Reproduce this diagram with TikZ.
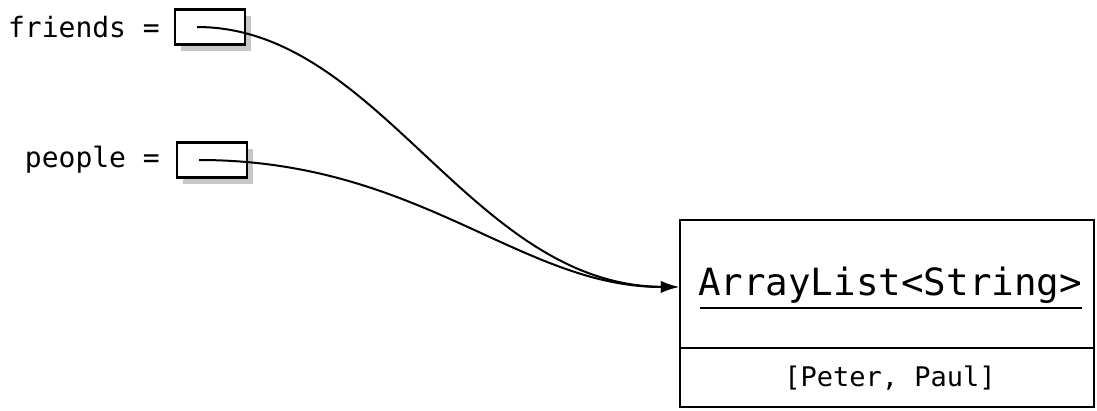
\documentclass[tikz,border=0pt]{standalone}
\usepackage{fontspec}
\setmonofont{DejaVu Sans Mono}
\usetikzlibrary{arrows.meta}
\begin{document}
\begin{tikzpicture}[x=1pt,y=-1pt,
  ptrbox/.style={draw=black,line width=2.4pt,fill=white,minimum width=70pt,minimum height=35pt,inner sep=0pt},
  shadowbox/.style={fill=black!22,minimum width=70pt,minimum height=35pt,inner sep=0pt},
  lbl/.style={font=\ttfamily\fontsize{28}{28}\selectfont,anchor=east,inner sep=0pt},
  link/.style={line width=2pt,-{Latex[length=18pt,width=12pt]}}]
\useasboundingbox (0,0) rectangle (1097,410);
% friends
\node[shadowbox] (fs) at (216,33) {};
\node[ptrbox] (fb) at (210,27) {};
\node[lbl] (fl) at (160,27) {friends =};
\coordinate (fstart) at (197,27);
% people
\node[shadowbox] (ps) at (218,166) {};
\node[ptrbox] (pb) at (212,160) {};
\node[lbl] (pl) at (160,160) {people =};
\coordinate (pstart) at (199,160);
% object
\node[draw=black,line width=2.4pt,minimum width=414pt,minimum height=187pt,inner sep=0pt] (obj) at (887,313.5) {};
\draw[line width=2.4pt] (obj.west |- 0,348) coordinate (dl) -- (obj.east |- 0,348) coordinate (dr);
\node[font=\ttfamily\fontsize{37.5}{37.5}\selectfont,inner sep=0pt] (cls) at (890,285) {ArrayList<String>};
\draw[line width=2pt] (700,308) coordinate (ul) -- (1082,308) coordinate (ur);
\node[font=\ttfamily\fontsize{27}{27}\selectfont,inner sep=0pt] (val) at (890,378) {[Peter, Paul]};
\coordinate (tip) at (obj.west |- 0,287);
% links
\draw[link] (fstart) .. controls (380,27) and (470,285) .. (tip);
\draw[link] (pstart) .. controls (420,160) and (520,287) .. (tip);
\end{tikzpicture}
\end{document}
